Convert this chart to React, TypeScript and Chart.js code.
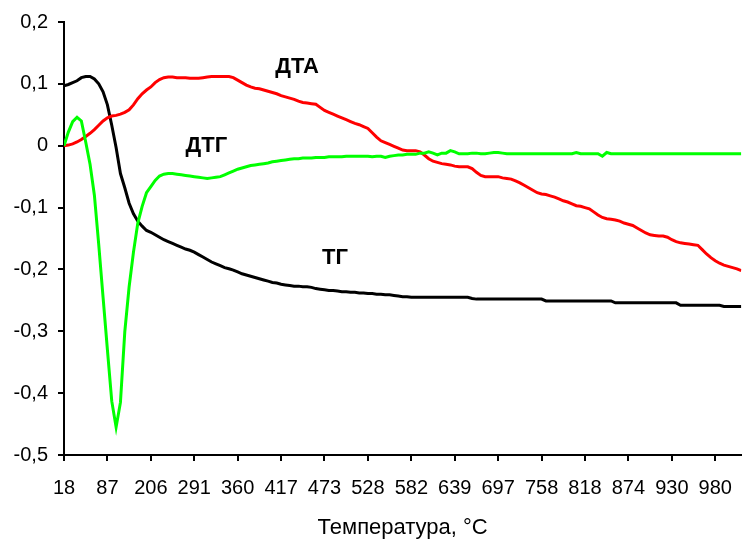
import React, { useEffect, useRef } from 'react';
import { Chart, registerables } from 'chart.js';

Chart.register(...registerables);

// Temperature labels shown every `pointsPerLabel` samples along the x axis
const tempLabels = ['18', '87', '206', '291', '360', '417', '473', '528', '582', '639', '697', '758', '818', '874', '930', '980'];
const pointsPerLabel = 10;
const xTitle = 'Температура, °С';

// ТГ (black)
const tgValues = [
  0.097, 0.099, 0.102, 0.105, 0.110, 0.112, 0.112, 0.108, 0.100, 0.087,
  0.066, 0.033, -0.003, -0.045, -0.068, -0.093, -0.110, -0.122, -0.130, -0.137,
  -0.140, -0.144, -0.148, -0.152, -0.155, -0.158, -0.161, -0.164, -0.167, -0.169,
  -0.172, -0.176, -0.180, -0.184, -0.188, -0.191, -0.194, -0.197, -0.199, -0.201,
  -0.204, -0.207, -0.209, -0.211, -0.213, -0.215, -0.217, -0.219, -0.221, -0.222,
  -0.224, -0.225, -0.226, -0.227, -0.227, -0.228, -0.228, -0.229, -0.231, -0.232,
  -0.233, -0.234, -0.234, -0.235, -0.236, -0.236, -0.237, -0.237, -0.238, -0.238,
  -0.239, -0.239, -0.240, -0.240, -0.241, -0.241, -0.242, -0.243, -0.244, -0.244,
  -0.245, -0.245, -0.245, -0.245, -0.245, -0.245, -0.245, -0.245, -0.245, -0.245,
  -0.245, -0.245, -0.245, -0.245, -0.247, -0.248, -0.248, -0.248, -0.248, -0.248,
  -0.248, -0.248, -0.248, -0.248, -0.248, -0.248, -0.248, -0.248, -0.248, -0.248,
  -0.248, -0.251, -0.251, -0.251, -0.251, -0.251, -0.251, -0.251, -0.251, -0.251,
  -0.251, -0.251, -0.251, -0.251, -0.251, -0.251, -0.251, -0.254, -0.254, -0.254,
  -0.254, -0.254, -0.254, -0.254, -0.254, -0.254, -0.254, -0.254, -0.254, -0.254,
  -0.254, -0.254, -0.258, -0.258, -0.258, -0.258, -0.258, -0.258, -0.258, -0.258,
  -0.258, -0.258, -0.260, -0.260, -0.260, -0.260, -0.260,
];

// ДТА (red)
const dtaValues = [
  0.000, 0.001, 0.003, 0.006, 0.010, 0.015, 0.020, 0.026, 0.033, 0.040,
  0.045, 0.048, 0.049, 0.051, 0.054, 0.058, 0.066, 0.076, 0.084, 0.090,
  0.095, 0.102, 0.107, 0.110, 0.111, 0.111, 0.110, 0.110, 0.110, 0.109,
  0.109, 0.109, 0.110, 0.111, 0.112, 0.112, 0.112, 0.112, 0.112, 0.110,
  0.106, 0.102, 0.098, 0.095, 0.093, 0.092, 0.090, 0.088, 0.086, 0.084,
  0.081, 0.079, 0.077, 0.075, 0.072, 0.070, 0.069, 0.068, 0.067, 0.062,
  0.057, 0.054, 0.051, 0.048, 0.045, 0.042, 0.039, 0.036, 0.034, 0.031,
  0.028, 0.021, 0.014, 0.008, 0.005, 0.002, -0.001, -0.004, -0.007, -0.008,
  -0.008, -0.008, -0.010, -0.015, -0.021, -0.025, -0.027, -0.029, -0.030, -0.031,
  -0.033, -0.034, -0.034, -0.034, -0.037, -0.043, -0.048, -0.050, -0.050, -0.050,
  -0.050, -0.052, -0.053, -0.054, -0.057, -0.060, -0.064, -0.068, -0.072, -0.076,
  -0.078, -0.079, -0.081, -0.083, -0.086, -0.089, -0.091, -0.094, -0.097, -0.098,
  -0.100, -0.102, -0.107, -0.112, -0.116, -0.118, -0.119, -0.120, -0.122, -0.125,
  -0.127, -0.129, -0.133, -0.137, -0.141, -0.144, -0.145, -0.146, -0.146, -0.148,
  -0.152, -0.155, -0.157, -0.158, -0.159, -0.160, -0.161, -0.168, -0.175, -0.181,
  -0.186, -0.190, -0.193, -0.195, -0.197, -0.199, -0.202,
];

// ДТГ (green)
const dtgValues = [
  0.000, 0.022, 0.039, 0.046, 0.040, 0.006, -0.030, -0.080, -0.160, -0.245,
  -0.330, -0.413, -0.455, -0.415, -0.301, -0.228, -0.172, -0.125, -0.098, -0.076,
  -0.066, -0.056, -0.049, -0.046, -0.045, -0.045, -0.046, -0.047, -0.048, -0.049,
  -0.050, -0.051, -0.052, -0.053, -0.052, -0.051, -0.050, -0.047, -0.044, -0.041,
  -0.038, -0.036, -0.034, -0.032, -0.031, -0.030, -0.029, -0.028, -0.026, -0.025,
  -0.024, -0.023, -0.022, -0.021, -0.021, -0.020, -0.020, -0.020, -0.019, -0.019,
  -0.019, -0.018, -0.018, -0.018, -0.018, -0.017, -0.017, -0.017, -0.017, -0.017,
  -0.017, -0.018, -0.017, -0.017, -0.019, -0.017, -0.016, -0.015, -0.015, -0.014,
  -0.014, -0.014, -0.012, -0.012, -0.010, -0.012, -0.015, -0.012, -0.012, -0.008,
  -0.010, -0.013, -0.013, -0.013, -0.012, -0.012, -0.013, -0.013, -0.012, -0.011,
  -0.011, -0.012, -0.013, -0.013, -0.013, -0.013, -0.013, -0.013, -0.013, -0.013,
  -0.013, -0.013, -0.013, -0.013, -0.013, -0.013, -0.013, -0.013, -0.011, -0.013,
  -0.013, -0.013, -0.013, -0.013, -0.017, -0.011, -0.013, -0.013, -0.013, -0.013,
  -0.013, -0.013, -0.013, -0.013, -0.013, -0.013, -0.013, -0.013, -0.013, -0.013,
  -0.013, -0.013, -0.013, -0.013, -0.013, -0.013, -0.013, -0.013, -0.013, -0.013,
  -0.013, -0.013, -0.013, -0.013, -0.013, -0.013, -0.013,
];

// Curve name labels anchored in data units (sample index, value)
const curveNames = ['ДТА', 'ДТГ', 'ТГ'];
const curveNameIndex = [53.7, 32.8, 62.4];
const curveNameValue = [0.127, 0.0, -0.181];

const FONT = "'Liberation Sans', Arial, sans-serif";

const curveNamePlugin = {
  id: 'curveNames',
  afterDatasetsDraw(chart: any) {
    const { ctx, scales } = chart;
    ctx.save();
    ctx.font = `bold 22px ${FONT}`;
    ctx.fillStyle = '#000';
    ctx.textAlign = 'center';
    ctx.textBaseline = 'middle';
    curveNames.forEach((t, k) => {
      ctx.fillText(t, scales.x.getPixelForValue(curveNameIndex[k]), scales.y.getPixelForValue(curveNameValue[k]));
    });
    ctx.restore();
  },
};

export default function App() {
  const ref = useRef<HTMLCanvasElement | null>(null);

  useEffect(() => {
    if (!ref.current) return;
    const toXY = (arr: number[]) => arr.map((v, i) => ({ x: i, y: v }));
    const lastIndex = tgValues.length - 1;
    const chart = new Chart(ref.current, {
      type: 'line',
      data: {
        datasets: [
          { label: 'ДТГ', data: toXY(dtgValues), borderColor: '#00FF00', borderWidth: 3, pointRadius: 0, tension: 0, fill: false },
          { label: 'ДТА', data: toXY(dtaValues), borderColor: '#FF0000', borderWidth: 3, pointRadius: 0, tension: 0, fill: false },
          { label: 'ТГ', data: toXY(tgValues), borderColor: '#000000', borderWidth: 3, pointRadius: 0, tension: 0, fill: false },
        ],
      },
      options: {
        animation: false,
        responsive: true,
        maintainAspectRatio: false,
        devicePixelRatio: 1,
        layout: { padding: { top: 17, right: 2, left: 0, bottom: 0 } },
        plugins: { legend: { display: false }, tooltip: { enabled: false } },
        scales: {
          x: {
            type: 'linear',
            min: 0,
            max: lastIndex,
            afterFit: (s: any) => { s.height = 87; },
            grid: { drawOnChartArea: false, drawTicks: true, tickLength: 6, color: '#000', lineWidth: 2 },
            border: { display: true, color: '#000', width: 2 },
            ticks: {
              stepSize: pointsPerLabel,
              includeBounds: false,
              autoSkip: false,
              maxRotation: 0,
              padding: 15,
              color: '#000',
              font: { size: 20, family: FONT },
              callback: (v: any) => {
                const k = Math.round(Number(v) / pointsPerLabel);
                return Number(v) % pointsPerLabel === 0 && tempLabels[k] !== undefined ? tempLabels[k] : '';
              },
            },
            title: { display: true, text: xTitle, color: '#000', font: { size: 22, family: FONT }, padding: { top: 0, bottom: 1 } },
          },
          y: {
            min: -0.5,
            max: 0.2,
            afterFit: (s: any) => { s.width = 64; },
            grid: { drawOnChartArea: false, drawTicks: true, tickLength: 6, color: '#000', lineWidth: 2 },
            border: { display: true, color: '#000', width: 2 },
            ticks: {
              stepSize: 0.1,
              padding: 10,
              color: '#000',
              font: { size: 20, family: FONT },
              callback: (v: any) => {
                const r = Math.round(Number(v) * 10) / 10;
                return r === 0 ? '0' : r.toFixed(1).replace('.', ',');
              },
            },
          },
        },
      },
      plugins: [curveNamePlugin],
    } as any);
    return () => chart.destroy();
  }, []);

  return (
    <div style={{ position: 'fixed', left: 0, top: 0, width: 747, height: 542, background: '#fff' }}>
      <canvas ref={ref} />
    </div>
  );
}
